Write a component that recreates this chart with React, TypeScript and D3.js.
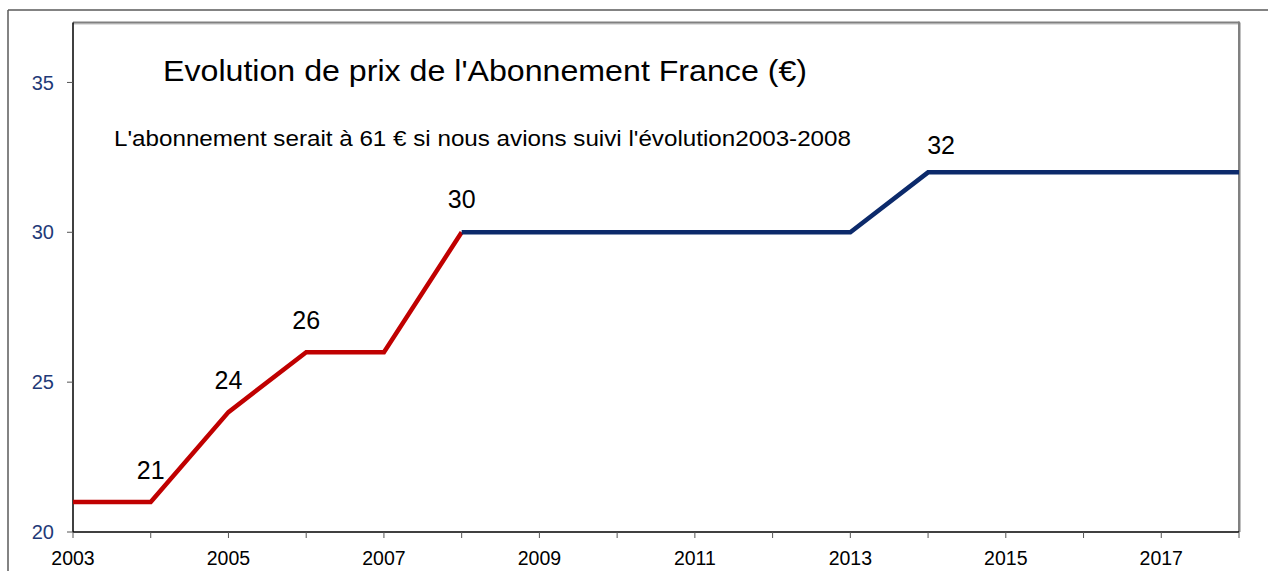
import React from "react";
import * as d3 from "d3";

const years = [2003, 2004, 2005, 2006, 2007, 2008, 2009, 2010, 2011, 2012, 2013, 2014, 2015, 2016, 2017, 2018];
const prices = [21, 21, 24, 26, 26, 30, 30, 30, 30, 30, 30, 32, 32, 32, 32, 32];
const redEndYear = 2008;
const yTicks = [20, 25, 30, 35];
const xLabelYears = [2003, 2005, 2007, 2009, 2011, 2013, 2015, 2017];
const labelYears = [2004, 2005, 2006, 2008, 2014];
const labelTexts = ["21", "24", "26", "30", "32"];
const titleText = "Evolution de prix de l'Abonnement France (€)";
const subtitleText = "L'abonnement serait à 61 € si nous avions suivi l'évolution2003-2008";

// label offsets (style only)
const labelDx = [0, 0, 0, 0, 13];
const labelDy = [-23, -23, -23, -24, -18];

const W = 1268;
const H = 571;
const left = 73;
const right = 1239;
const top = 22.5;
const bottom = 532;
const FONT = "'Liberation Sans', Arial, sans-serif";

export default function App() {
  const x = d3.scaleLinear().domain([2003, 2018]).range([left, right]);
  const y = d3.scaleLinear().domain([20, 37]).range([bottom, top]);
  const pts = years.map((yr, i) => ({ yr, v: prices[i] }));
  const line = d3
    .line<{ yr: number; v: number }>()
    .x((d) => x(d.yr))
    .y((d) => y(d.v));
  const redPts = pts.filter((p) => p.yr <= redEndYear);
  const bluePts = pts.filter((p) => p.yr >= redEndYear);
  const allYearTicks = d3.range(2003, 2019);

  return (
    <svg
      width={W}
      height={H}
      style={{ position: "absolute", left: 0, top: 0, background: "#fff" }}
      fontFamily={FONT}
    >
      {/* outer frame */}
      <line x1={8} y1={10} x2={W} y2={10} stroke="#5a5a5a" strokeWidth={1.5} />
      <line x1={8} y1={10} x2={8} y2={H} stroke="#5a5a5a" strokeWidth={1.5} />

      {/* plot frame (top/right gray) */}
      <line x1={left} y1={top + 1.5} x2={right + 1} y2={top + 1.5} stroke="#c0c0c0" strokeWidth={1} />
      <line x1={left} y1={top} x2={right} y2={top} stroke="#808080" strokeWidth={2} />
      <line x1={right + 1.5} y1={top} x2={right + 1.5} y2={bottom} stroke="#c0c0c0" strokeWidth={1} />
      <line x1={right} y1={top - 1} x2={right} y2={bottom} stroke="#808080" strokeWidth={2} />

      {/* axes */}
      <line x1={left} y1={top} x2={left} y2={bottom} stroke="#000" strokeWidth={1.5} />
      <line x1={left} y1={bottom} x2={right} y2={bottom} stroke="#000" strokeWidth={1.5} />

      {yTicks.map((t) => (
        <g key={"y" + t}>
          <line x1={left - 6} x2={left} y1={y(t)} y2={y(t)} stroke="#555" strokeWidth={1} />
          <text
            x={left - 19}
            y={y(t)}
            dy="0.36em"
            textAnchor="end"
            fontSize={20}
            fill="#1f3a78"
          >
            {t}
          </text>
        </g>
      ))}

      {allYearTicks.map((t) => (
        <line key={"xt" + t} x1={x(t)} x2={x(t)} y1={bottom} y2={bottom + 6} stroke="#555" strokeWidth={1} />
      ))}
      {xLabelYears.map((t) => (
        <text key={"xl" + t} x={x(t)} y={565} textAnchor="middle" fontSize={19.5} fill="#000">
          {t}
        </text>
      ))}

      <path d={line(redPts) || ""} fill="none" stroke="#c00000" strokeWidth={4.5} strokeLinejoin="miter" />
      <path d={line(bluePts) || ""} fill="none" stroke="#0c2a6b" strokeWidth={4.5} strokeLinejoin="miter" />

      {labelYears.map((yr, i) => {
        const v = prices[years.indexOf(yr)];
        return (
          <text
            key={"lb" + yr}
            x={x(yr) + labelDx[i]}
            y={y(v) + labelDy[i]}
            textAnchor="middle"
            fontSize={25}
            fill="#000"
          >
            {labelTexts[i]}
          </text>
        );
      })}

      <text x={163} y={81} fontSize={30} fill="#000" textLength={644} lengthAdjust="spacingAndGlyphs">
        {titleText}
      </text>
      <text x={114} y={146} fontSize={22} fill="#000" textLength={737} lengthAdjust="spacingAndGlyphs">
        {subtitleText}
      </text>
    </svg>
  );
}
